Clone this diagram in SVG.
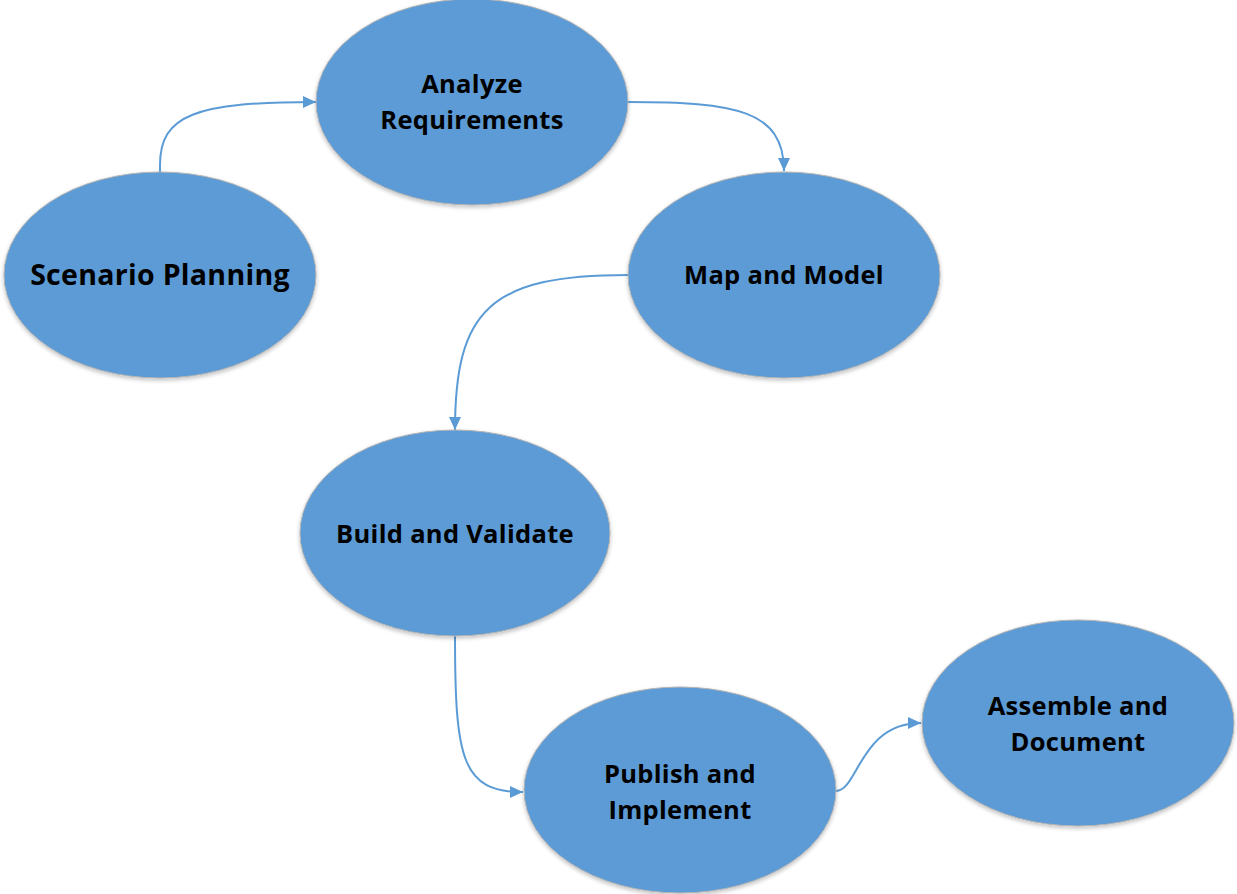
<svg xmlns="http://www.w3.org/2000/svg" width="1237" height="894" viewBox="0 0 1237 894">
<style>
.node{fill:#5B9BD5;stroke:#B4B4B4;stroke-width:1;filter:url(#sh)}
.lbl{font-family:"Open Sans","Liberation Sans",sans-serif;font-weight:bold;font-size:25.5px;letter-spacing:0.3px;fill:#000;text-anchor:middle}
.big{font-size:28.5px}
.edge{fill:none;stroke:#5B9BD5;stroke-width:2;marker-end:url(#ah)}
</style>
<defs>
<marker id="ah" viewBox="0 0 13 12" refX="13" refY="6" markerWidth="13" markerHeight="12" markerUnits="userSpaceOnUse" orient="auto">
<path d="M0,0 L13,6 L0,12 Z" fill="#5B9BD5"/>
</marker>
<filter id="sh" x="-10%" y="-10%" width="120%" height="125%">
<feGaussianBlur in="SourceAlpha" stdDeviation="2"/>
<feOffset dx="0" dy="2" result="b"/>
<feComponentTransfer><feFuncA type="linear" slope="0.25"/></feComponentTransfer>
<feMerge><feMergeNode/><feMergeNode in="SourceGraphic"/></feMerge>
</filter>
</defs>
<rect width="1237" height="894" fill="#fff"/>
<g id="connectors">
<path class="edge" d="M160,172 L160,165 C160,115 195,102 316,102"/>
<path class="edge" d="M628,102 C735,102 784,110 784,171"/>
<path class="edge" d="M628,275 C490,275 455,310 455,430"/>
<path class="edge" d="M455,636 C455,760 462,792 523,792"/>
<path class="edge" d="M836,791 C858,791 860,723 921,723"/>
</g>
<g id="scenario-planning">
<ellipse class="node" cx="160" cy="275" rx="156" ry="103"/>
<text class="lbl big" x="160" y="285">Scenario Planning</text>
</g>
<g id="analyze-requirements">
<ellipse class="node" cx="472" cy="102" rx="156" ry="103"/>
<text class="lbl" x="472" y="93">Analyze</text>
<text class="lbl" x="472" y="129">Requirements</text>
</g>
<g id="map-and-model">
<ellipse class="node" cx="784" cy="275" rx="156" ry="103"/>
<text class="lbl" x="784" y="284">Map and Model</text>
</g>
<g id="build-and-validate">
<ellipse class="node" cx="455" cy="533" rx="155" ry="103"/>
<text class="lbl" x="455" y="543">Build and Validate</text>
</g>
<g id="publish-and-implement">
<ellipse class="node" cx="680" cy="790" rx="156" ry="103"/>
<text class="lbl" x="680" y="783">Publish and</text>
<text class="lbl" x="680" y="819">Implement</text>
</g>
<g id="assemble-and-document">
<ellipse class="node" cx="1078" cy="723" rx="156" ry="103"/>
<text class="lbl" x="1078" y="715">Assemble and</text>
<text class="lbl" x="1078" y="751">Document</text>
</g>
</svg>
